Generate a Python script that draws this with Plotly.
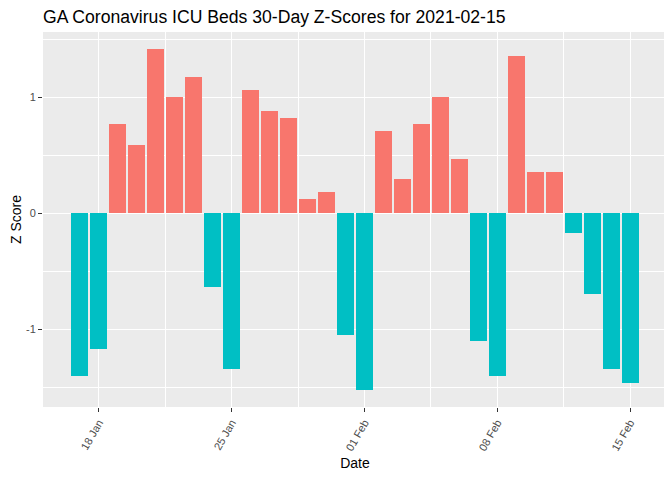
import plotly.graph_objects as go
import pandas as pd

dates = pd.date_range("2021-01-17", "2021-02-15", freq="D").strftime("%Y-%m-%d").tolist()
z_scores = [-1.40, -1.17, 0.77, 0.59, 1.414, 1.00, 1.17, -0.63, -1.34, 1.06,
            0.88, 0.82, 0.12, 0.18, -1.05, -1.519, 0.71, 0.30, 0.77, 1.00,
            0.47, -1.10, -1.40, 1.355, 0.36, 0.36, -0.17, -0.69, -1.34, -1.46]
x_tick_vals = ["2021-01-18", "2021-01-25", "2021-02-01", "2021-02-08", "2021-02-15"]
x_tick_text = ["18 Jan", "25 Jan", "01 Feb", "08 Feb", "15 Feb"]
x_minor_vals = ["2021-01-21 12:00", "2021-01-28 12:00", "2021-02-04 12:00", "2021-02-11 12:00"]
y_tick_vals = [-1, 0, 1]
y_tick_text = ["-1", "0", "1"]
y_minor_vals = [-1.5, -0.5, 0.5, 1.5]

POS, NEG = "#F8766D", "#00BFC4"
colors = [POS if v > 0 else NEG for v in z_scores]

fig = go.Figure(go.Bar(
    x=dates, y=z_scores, marker=dict(color=colors, line=dict(width=0)),
    width=0.9 * 86400000, showlegend=False,
))

# page body has an 8px default margin; figure sized to fit the 672x480 window
W, H = 664, 472
font = "Liberation Sans, Arial, sans-serif"
fig.update_layout(
    width=W, height=H,
    margin=dict(l=35, r=5, t=24, b=73, autoexpand=False),
    paper_bgcolor="white", plot_bgcolor="#EBEBEB",
    font=dict(family=font, color="black"),
    title=dict(text="GA Coronavirus ICU Beds 30-Day Z-Scores for 2021-02-15",
               x=35 / W, xanchor="left", y=1 - 15 / H, yanchor="bottom",
               font=dict(size=17.6, color="black")),
    bargap=0,
)
fig.update_xaxes(
    type="date", range=["2021-01-15 01:19", "2021-02-16 22:40"],
    tickvals=x_tick_vals, ticktext=x_tick_text, tickangle=-60,
    tickfont=dict(size=11, color="#4D4D4D"),
    ticks="outside", ticklen=4, tickcolor="#333333", tickwidth=1,
    showgrid=True, gridcolor="white", gridwidth=1.1,
    minor=dict(tickvals=x_minor_vals, showgrid=True, gridcolor="white", gridwidth=0.5, ticklen=0),
    zeroline=False, showline=False, automargin=False,
    title=dict(text="Date", font=dict(size=14, color="black"), standoff=6),
)
fig.update_yaxes(
    range=[-1.666, 1.561],
    tickvals=y_tick_vals, ticktext=y_tick_text,
    tickfont=dict(size=11, color="#4D4D4D"),
    ticks="outside", ticklen=4, tickcolor="#333333", tickwidth=1,
    showgrid=True, gridcolor="white", gridwidth=1.1,
    minor=dict(tickvals=y_minor_vals, showgrid=True, gridcolor="white", gridwidth=0.5, ticklen=0),
    zeroline=False, showline=False, automargin=False,
    title=dict(text="Z Score", font=dict(size=14, color="black"), standoff=2),
)

fig.write_html("out.html")
